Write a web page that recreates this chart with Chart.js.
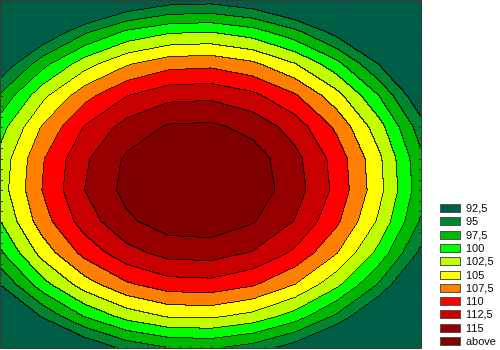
<!DOCTYPE html>
<html>
<head>
<meta charset="utf-8">
<script src="https://cdn.jsdelivr.net/npm/chart.js@4.4.1/dist/chart.umd.min.js"></script>
<style>
  html, body { margin: 0; padding: 0; background: #fff; }
</style>
</head>
<body>
<canvas id="contourChart" width="500" height="350"></canvas>
<script>
// Grid node positions (axis units) for the surface values
const xNodes = [0, 4, 8, 12, 16, 20, 24, 28, 32, 36, 40];
const yNodes = [0, 3, 6, 9, 12, 15, 18, 21, 24, 27, 30, 33];

// Surface values, one row per y node (bottom row first)
const zRows = [
  [78.8, 85.1, 90.0, 93.3, 95.0, 95.3, 94.0, 91.2, 86.8, 80.9, 73.5],
  [86.5, 92.9, 97.7, 101.0, 102.8, 103.0, 101.7, 98.9, 94.5, 88.6, 81.2],
  [92.6, 99.0, 103.8, 107.1, 108.9, 109.1, 107.8, 105.0, 100.6, 94.7, 87.3],
  [97.1, 103.5, 108.3, 111.6, 113.4, 113.6, 112.3, 109.5, 105.1, 99.2, 91.8],
  [100.0, 106.4, 111.2, 114.5, 116.3, 116.5, 115.2, 112.4, 108.0, 102.1, 94.7],
  [101.3, 107.6, 112.5, 115.8, 117.6, 117.8, 116.5, 113.7, 109.3, 103.4, 96.0],
  [100.9, 107.3, 112.1, 115.4, 117.2, 117.5, 116.2, 113.3, 109.0, 103.1, 95.6],
  [99.0, 105.3, 110.2, 113.5, 115.3, 115.5, 114.2, 111.4, 107.0, 101.1, 93.7],
  [95.4, 101.8, 106.6, 109.9, 111.7, 111.9, 110.6, 107.8, 103.4, 97.5, 90.1],
  [90.2, 96.6, 101.4, 104.7, 106.5, 106.8, 105.5, 102.6, 98.3, 92.4, 84.9],
  [83.4, 89.8, 94.6, 98.0, 99.7, 100.0, 98.7, 95.8, 91.5, 85.6, 78.1],
  [75.0, 81.4, 86.2, 89.5, 91.3, 91.6, 90.3, 87.4, 83.1, 77.2, 69.7]
];

// Contour levels and legend
const levels = [92.5, 95, 97.5, 100, 102.5, 105, 107.5, 110, 112.5, 115];
const levelLabels = ['92,5', '95', '97,5', '100', '102,5', '105', '107,5', '110', '112,5', '115', 'above'];
const bandColors = ['#005e46', '#00862e', '#00b800', '#00ff00', '#c0ff00', '#ffff00',
                    '#ff8000', '#ff0000', '#c80000', '#960000', '#800000'];

function hexToRgb(hex) {
  const n = parseInt(hex.slice(1), 16);
  return [(n >> 16) & 255, (n >> 8) & 255, n & 255];
}

// find cell index and fraction along a node list
function locate(nodes, v) {
  let i = 0;
  while (i < nodes.length - 2 && v > nodes[i + 1]) i++;
  const t = (v - nodes[i]) / (nodes[i + 1] - nodes[i]);
  return [i, t];
}

const contourPlugin = {
  id: 'contourFill',
  beforeDatasetsDraw(chart) {
    const { ctx, chartArea: a, scales: { x, y } } = chart;
    const left = Math.round(a.left), top = Math.round(a.top);
    const w = Math.round(a.right) - left, h = Math.round(a.bottom) - top;
    const rgb = bandColors.map(hexToRgb);
    const img = ctx.createImageData(w, h);
    const band = new Int8Array(w * h);

    const cols = [];
    for (let px = 0; px < w; px++) cols.push(locate(xNodes, x.getValueForPixel(left + px + 0.5)));

    for (let py = 0; py < h; py++) {
      const [j, u] = locate(yNodes, y.getValueForPixel(top + py + 0.5));
      const r0 = zRows[j], r1 = zRows[j + 1];
      for (let px = 0; px < w; px++) {
        const [i, t] = cols[px];
        const z = (r0[i] * (1 - t) + r0[i + 1] * t) * (1 - u) +
                  (r1[i] * (1 - t) + r1[i + 1] * t) * u;
        let b = levels.findIndex(l => z <= l);
        if (b < 0) b = levels.length;
        band[py * w + px] = b;
      }
    }

    for (let py = 0; py < h; py++) {
      for (let px = 0; px < w; px++) {
        const k = py * w + px;
        const b = band[k];
        let c = rgb[b];
        const edge = (px < w - 1 && band[k + 1] !== b) || (py < h - 1 && band[k + w] !== b);
        if (edge) c = c.map(v => Math.round(v * 0.2));
        img.data[k * 4] = c[0];
        img.data[k * 4 + 1] = c[1];
        img.data[k * 4 + 2] = c[2];
        img.data[k * 4 + 3] = 255;
      }
    }
    ctx.putImageData(img, left, top);
  },
  afterDraw(chart) {
    const { ctx, chartArea: a, scales: { x, y } } = chart;
    ctx.save();
    // frame
    ctx.strokeStyle = '#3a3a3a';
    ctx.lineWidth = 1;
    ctx.strokeRect(Math.round(a.left) - 0.5, Math.round(a.top) - 0.5,
                   Math.round(a.right - a.left) + 1, Math.round(a.bottom - a.top) + 1);
    // small inward ticks
    ctx.beginPath();
    for (let v = x.min; v <= x.max; v++) {
      const px = Math.round(x.getPixelForValue(v)) + 0.5;
      ctx.moveTo(px, a.top); ctx.lineTo(px, a.top + 2);
      ctx.moveTo(px, a.bottom); ctx.lineTo(px, a.bottom - 2);
    }
    for (let v = y.min; v <= y.max; v++) {
      const py = Math.round(y.getPixelForValue(v)) + 0.5;
      ctx.moveTo(a.left, py); ctx.lineTo(a.left + 2, py);
      ctx.moveTo(a.right, py); ctx.lineTo(a.right - 2, py);
    }
    ctx.stroke();

    // legend
    ctx.font = '11px "Liberation Sans", Arial, sans-serif';
    ctx.textBaseline = 'middle';
    levelLabels.forEach((label, k) => {
      const by = Math.round(204 + k * 13.3);
      ctx.fillStyle = bandColors[k];
      ctx.fillRect(440, by, 21, 9);
      ctx.strokeStyle = '#555';
      ctx.strokeRect(440.5, by + 0.5, 20, 8);
      ctx.fillStyle = '#000';
      ctx.fillText(label, 466, by + 5);
    });
    ctx.restore();
  }
};

const points = [];
yNodes.forEach((yv, j) => xNodes.forEach((xv, i) => points.push({ x: xv, y: yv, z: zRows[j][i] })));

new Chart(document.getElementById('contourChart'), {
  type: 'scatter',
  data: {
    datasets: [{ label: 'surface', data: points, pointRadius: 0, showLine: false }]
  },
  options: {
    responsive: false,
    animation: false,
    devicePixelRatio: 1,
    layout: { padding: { left: 1, top: 1, right: 79, bottom: 2 } },
    scales: {
      x: { type: 'linear', min: 0, max: 40, display: false },
      y: { type: 'linear', min: 0, max: 33, display: false }
    },
    plugins: { legend: { display: false }, tooltip: { enabled: false } }
  },
  plugins: [contourPlugin]
});
</script>
</body>
</html>
